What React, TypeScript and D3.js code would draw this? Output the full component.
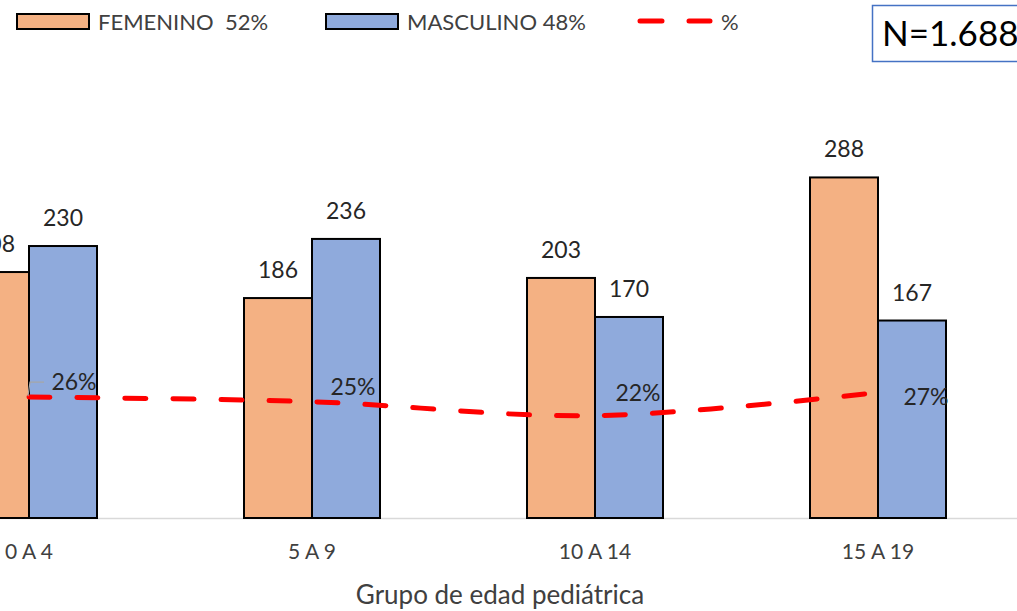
import React, { useRef, useEffect } from 'react';
import * as d3 from 'd3';

// age groups and counts per sex
const categories = ['0 A 4', '5 A 9', '10 A 14', '15 A 19'];
const femenino = [208, 186, 203, 288];
const masculino = [230, 236, 170, 167];
const porcentaje = [0.26, 0.25, 0.22, 0.27];
const seriesNames = ['FEMENINO  52%', 'MASCULINO 48%'];
const totalLabel = 'N=1.688';
const axisTitle = 'Grupo de edad pediátrica';

// label nudges for the % line (as placed in the original)
const pctLabelOffset = [
   [45, -15],
   [41, -15],
   [43, -23],
   [48, 4],
];

const W = 1017;
const H = 611;
const FONT = 'Lato, "Open Sans", sans-serif';

const App: React.FC = () => {
   const svgRef = useRef<SVGSVGElement | null>(null);

   useEffect(() => {
      if (!svgRef.current) return;
      const svg = d3.select(svgRef.current);
      svg.selectAll('*').remove();

      const baseY = 518;
      const step = 283;
      const firstCenter = 29;

      const x0 = d3
         .scaleBand<string>()
         .domain(categories)
         .range([firstCenter - step / 2, firstCenter - step / 2 + step * categories.length])
         .paddingInner(0)
         .paddingOuter(0);

      const barW = 68;
      const x1 = d3
         .scaleBand<string>()
         .domain(seriesNames)
         .range([step / 2 - barW, step / 2 + barW]);

      const y = d3.scaleLinear().domain([0, 400]).range([baseY, baseY - 473]);
      const y2 = d3.scaleLinear().domain([0, 1]).range([baseY, baseY - 465]);

      const colors = ['#F4B183', '#8FAADC'];
      const values = [femenino, masculino];

      // axis baseline
      svg.append('line')
         .attr('x1', 0)
         .attr('x2', W)
         .attr('y1', baseY + 0.5)
         .attr('y2', baseY + 0.5)
         .attr('stroke', '#d9d9d9')
         .attr('stroke-width', 1.5);

      // bars
      seriesNames.forEach((s, si) => {
         const g = svg.append('g');
         g.selectAll('rect')
            .data(values[si])
            .join('rect')
            .attr('x', (_d, i) => (x0(categories[i]) ?? 0) + (x1(s) ?? 0))
            .attr('y', (d) => y(d))
            .attr('width', x1.bandwidth())
            .attr('height', (d) => baseY - y(d))
            .attr('fill', colors[si])
            .attr('stroke', '#000')
            .attr('stroke-width', 2);

         g.selectAll('text')
            .data(values[si])
            .join('text')
            .attr('x', (_d, i) => (x0(categories[i]) ?? 0) + (x1(s) ?? 0) + x1.bandwidth() / 2)
            .attr('y', (d) => y(d) - 20)
            .attr('text-anchor', 'middle')
            .attr('font-family', FONT)
            .attr('font-size', 23)
            .attr('fill', '#262626')
            .text((d) => d);
      });

      // % line
      const cx = (i: number) => (x0(categories[i]) ?? 0) + step / 2;
      const line = d3
         .line<number>()
         .x((_d, i) => cx(i))
         .y((d) => y2(d))
         .curve(d3.curveCatmullRom.alpha(0.5));

      svg.append('path')
         .attr('d', line(porcentaje) ?? '')
         .attr('fill', 'none')
         .attr('stroke', '#FF0000')
         .attr('stroke-width', 5)
         .attr('stroke-linecap', 'round')
         .attr('stroke-dasharray', '21 27');

      // leader line for first label
      const p0x = cx(0);
      const p0y = y2(porcentaje[0]);
      svg.append('polyline')
         .attr('points', `${p0x - 1},${p0y - 1} ${p0x + 1},${p0y - 15} ${p0x + 15},${p0y - 15}`)
         .attr('fill', 'none')
         .attr('stroke', '#a6a6a6')
         .attr('stroke-width', 1.2);

      svg.append('g')
         .selectAll('text')
         .data(porcentaje)
         .join('text')
         .attr('x', (_d, i) => cx(i) + pctLabelOffset[i][0])
         .attr('y', (d, i) => y2(d) + pctLabelOffset[i][1])
         .attr('dy', '0.35em')
         .attr('text-anchor', 'middle')
         .attr('font-family', FONT)
         .attr('font-size', 23)
         .attr('fill', '#262626')
         .text((d) => `${Math.round(d * 100)}%`);

      // category labels
      svg.append('g')
         .selectAll('text')
         .data(categories)
         .join('text')
         .attr('x', (_d, i) => cx(i))
         .attr('y', 559)
         .attr('text-anchor', 'middle')
         .attr('font-family', FONT)
         .attr('font-size', 21)
         .attr('fill', '#404040')
         .text((d) => d);

      // axis title
      svg.append('text')
         .attr('x', 500)
         .attr('y', 604)
         .attr('text-anchor', 'middle')
         .attr('font-family', FONT)
         .attr('font-size', 26)
         .attr('fill', '#404040')
         .text(axisTitle);

      // legend
      const legend = svg.append('g');
      const legendX = [17, 326];
      seriesNames.forEach((s, si) => {
         legend.append('rect')
            .attr('x', legendX[si])
            .attr('y', 14)
            .attr('width', 72)
            .attr('height', 15)
            .attr('fill', colors[si])
            .attr('stroke', '#000')
            .attr('stroke-width', 2);
         legend.append('text')
            .attr('x', legendX[si] + 81)
            .attr('y', 22)
            .attr('dy', '0.35em')
            .attr('font-family', FONT)
            .attr('font-size', 22)
            .attr('fill', '#404040')
            .style('white-space', 'pre')
            .text(s);
      });
      legend.append('line')
         .attr('x1', 640)
         .attr('x2', 710)
         .attr('y1', 21)
         .attr('y2', 21)
         .attr('stroke', '#FF0000')
         .attr('stroke-width', 5)
         .attr('stroke-linecap', 'round')
         .attr('stroke-dasharray', '22 27');
      legend.append('text')
         .attr('x', 721)
         .attr('y', 22)
         .attr('dy', '0.35em')
         .attr('font-family', FONT)
         .attr('font-size', 22)
         .attr('fill', '#404040')
         .text('%');

      // N box
      svg.append('rect')
         .attr('x', 872.5)
         .attr('y', 5.5)
         .attr('width', 160)
         .attr('height', 56)
         .attr('fill', '#fff')
         .attr('stroke', '#4472C4')
         .attr('stroke-width', 1.5);
      svg.append('text')
         .attr('x', 882)
         .attr('y', 34)
         .attr('dy', '0.35em')
         .attr('font-family', FONT)
         .attr('font-size', 35)
         .attr('fill', '#000')
         .text(totalLabel);
   }, []);

   return (
      <svg
         ref={svgRef}
         width={W}
         height={H}
         style={{ position: 'absolute', left: 0, top: 0, background: '#fff' }}
      />
   );
};

export default App;
